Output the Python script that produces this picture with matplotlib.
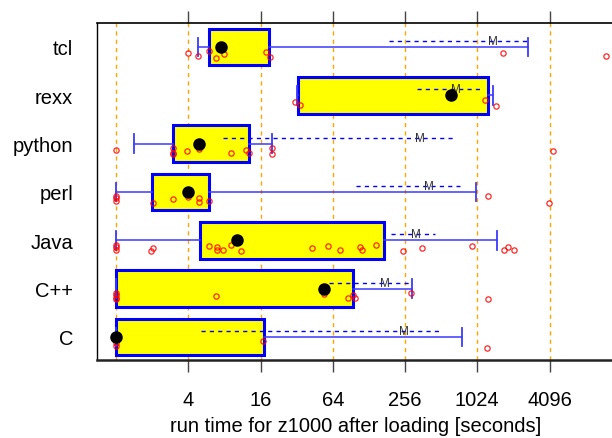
import matplotlib
matplotlib.use("Agg")
import matplotlib.pyplot as plt
from matplotlib.ticker import FixedLocator, NullLocator

# rows, bottom to top
languages = ['C', 'C++', 'Java', 'perl', 'python', 'rexx', 'tcl']

# quartiles, whisker ends, medians (seconds)
q1 = [1.0, 1.0, 5.0, 2.0, 3.0, 33.0, 6.0]
q3 = [17.0, 94.0, 171.0, 6.0, 12.9, 1266.0, 18.7]
whislo = [1.0, 1.0, 1.0, 1.0, 1.4, 32.0, 4.85]
whishi = [767.0, 293.0, 1508.0, 1005.0, 19.8, 1393.0, 2730.0]
medians = [1.0, 54.0, 10.1, 4.0, 4.94, 621.0, 7.5]

# mean and +/- one standard error
means = [251.0, 174.0, 317.0, 406.0, 342.0, 683.0, 1393.0]
mean_lo = [5.1, 60.0, 195.0, 100.0, 7.8, 322.0, 188.0]
mean_hi = [512.0, 293.0, 456.0, 739.0, 683.0, 1085.0, 2730.0]

# individual runs
points = {
    'C': [1, 1, 16.9, 1243],
    'C++': [1, 1, 1, 1, 6.85, 53.8, 85.4, 94, 97.7, 288, 1266],
    'Java': [1, 1, 1, 1.96, 2.04, 5.9, 7.0, 7.0, 7.8, 9.0, 10.9, 42.7, 58, 73,
             108, 112, 146, 246, 355, 930, 1722, 1860, 2090],
    'perl': [1, 1, 1, 2.04, 3.0, 4.0, 4.94, 4.94, 6.0, 1266, 4020],
    'python': [1.0, 3.0, 3.0, 3.0, 3.92, 4.94, 9.0, 12.0, 12.9, 19.8, 19.8, 4340],
    'rexx': [30.8, 33.9, 1193, 1475],
    'tcl': [4.0, 4.85, 6.0, 6.85, 8.0, 17.9, 19.0, 1680, 12000],
}

tick_values = [4, 16, 64, 256, 1024, 4096]
grid_values = [1, 4, 16, 64, 256, 1024, 4096]

plt.rcParams['font.family'] = ['Liberation Sans', 'DejaVu Sans']

fig = plt.figure(figsize=(6.12, 4.39), dpi=100)
ax = fig.add_axes([0.158, 0.1777, 0.845, 0.7677])

pos = list(range(1, len(languages) + 1))

for g in grid_values:
    ax.axvline(g, color='orange', ls=(0, (3, 3)), lw=1, zorder=0)

stats = []
for i, lang in enumerate(languages):
    stats.append(dict(label=lang, q1=q1[i], q3=q3[i], med=medians[i],
                      whislo=whislo[i], whishi=whishi[i], fliers=[]))

ax.bxp(stats, positions=pos, widths=0.76, orientation='horizontal',
       showfliers=False, patch_artist=True,
       boxprops=dict(facecolor='yellow', edgecolor='blue', linewidth=2.2),
       whiskerprops=dict(color='#3a3aff', linewidth=1.1),
       capprops=dict(color='#3a3aff', linewidth=1.3),
       capwidths=0.38,
       medianprops=dict(visible=False), zorder=2)

jitter = [0.13, 0.19, 0.09, 0.22, 0.15, 0.11, 0.2]
for i, lang in enumerate(languages):
    y = pos[i]
    # mean +- standard error, drawn a little above the row centre
    ax.plot([mean_lo[i], mean_hi[i]], [y + 0.125, y + 0.125], color='blue',
            lw=1, ls=(0, (3, 3)), zorder=3)
    ax.text(means[i], y + 0.125, 'M', color='#333333', fontsize=8.5,
            ha='center', va='center', zorder=5)
    # runs, jittered below the centre
    vals = points[lang]
    ys = [y - jitter[k % len(jitter)] for k in range(len(vals))]
    ax.plot(vals, ys, 'o', mfc='none', mec='red', mew=0.9, ms=3.8,
            alpha=0.85, zorder=4)
    ax.plot(medians[i], y, 'o', color='black', ms=8, zorder=6)

ax.set_xscale('log', base=2)
ax.set_xlim(2 ** -0.536, 2 ** 13.78)
ax.set_ylim(0.524, 7.497)

ax.xaxis.set_major_locator(FixedLocator(tick_values))
ax.xaxis.set_minor_locator(NullLocator())
ax.set_xticklabels([str(t) for t in tick_values], fontsize=14.5)
ax.tick_params(axis='x', top=True, direction='out', length=8.6, width=1,
               color='#444444', pad=13)
ax.set_yticks(pos)
ax.set_yticklabels(languages, fontsize=14.5)
ax.tick_params(axis='y', length=0, pad=17)

ax.spines['right'].set_visible(False)
ax.spines['bottom'].set_linewidth(1.8)
ax.spines['bottom'].set_color('#222222')
ax.spines['top'].set_linewidth(1.2)
ax.spines['left'].set_linewidth(1.0)

ax.set_xlabel('run time for z1000 after loading [seconds]', fontsize=14.5,
              labelpad=5)

fig.savefig('out.png', dpi=100)
